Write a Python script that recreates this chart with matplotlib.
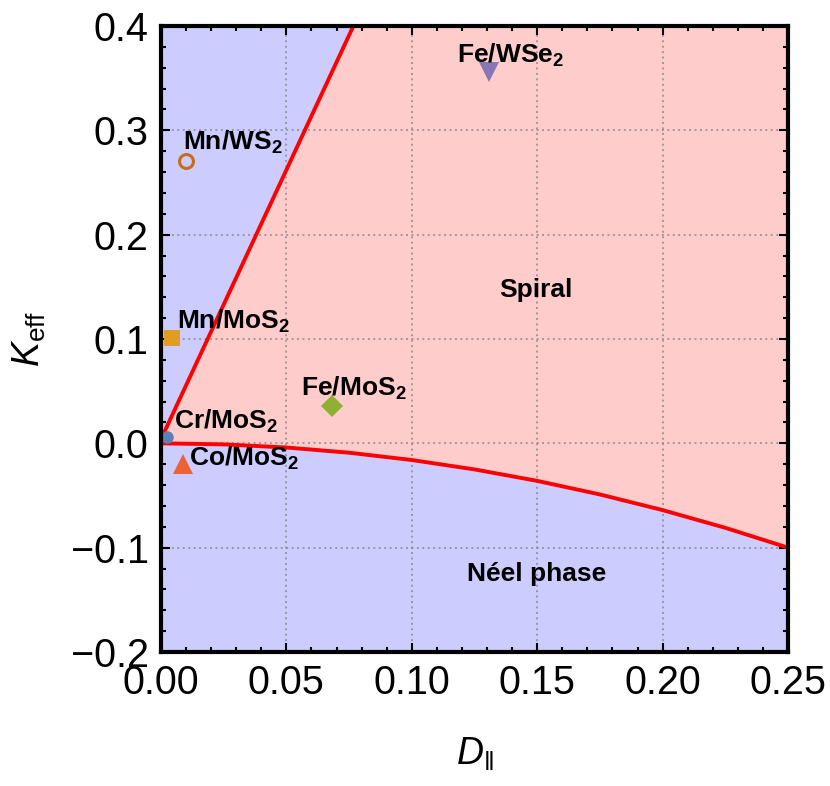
import matplotlib
matplotlib.use("Agg")
import matplotlib.pyplot as plt
from matplotlib.ticker import MultipleLocator, FuncFormatter

# ─── data ────────────────────────────────────────────────────────────────────
materials = ["Mn/WS$_\\mathbf{2}$", "Mn/MoS$_\\mathbf{2}$", "Cr/MoS$_\\mathbf{2}$",
             "Co/MoS$_\\mathbf{2}$", "Fe/MoS$_\\mathbf{2}$", "Fe/WSe$_\\mathbf{2}$"]
d_par = [0.0098, 0.0045, 0.0025, 0.0088, 0.068, 0.1307]
k_eff = [0.271, 0.101, 0.0064, -0.020, 0.0354, 0.356]

# upper phase boundary (straight line)
line_d = [0.0, 0.0767]
line_k = [0.004, 0.4]

# lower phase boundary (curve)
curve_d = [0.0, 0.025, 0.05, 0.075, 0.10, 0.125, 0.15, 0.175, 0.20, 0.225, 0.25]
curve_k = [0.0, -0.001, -0.004, -0.009, -0.016, -0.025, -0.036, -0.049, -0.064, -0.081, -0.100]

# ─── styling ─────────────────────────────────────────────────────────────────
markers = ["o", "s", "o", "^", "D", "v"]
colors = ["#C56E1A", "#E19C24", "#5E81B5", "#EB6235", "#8FB032", "#8778B3"]
sizes = [10, 12, 9, 15, 11.5, 15]
filled = [False, True, True, True, True, True]
label_pos = [(0.0088, 0.2813), (0.0062, 0.1097), (0.0052, 0.014),
             (0.0112, -0.0217), (0.0558, 0.0453), (0.1182, 0.365)]

plt.rcParams["font.family"] = ["Liberation Sans", "DejaVu Sans"]
plt.rcParams["mathtext.fontset"] = "custom"
plt.rcParams["mathtext.rm"] = "Liberation Sans"
plt.rcParams["mathtext.it"] = "Liberation Sans:italic"
plt.rcParams["mathtext.bf"] = "Liberation Sans:bold"

BLUE_BG = "#CCCCFF"
PINK_BG = "#FFCCCC"

fig = plt.figure(figsize=(8.3, 7.86), dpi=100)
ax = fig.add_axes([0.194, 0.1705, 0.7554, 0.7964])
xmin, xmax, ymin, ymax = 0.0, 0.25, -0.2, 0.4
ax.set_xlim(xmin, xmax)
ax.set_ylim(ymin, ymax)
ax.set_facecolor(BLUE_BG)

# spiral region between the two boundaries
poly_x = line_d + [xmax] + curve_d[::-1]
poly_y = line_k + [ymax] + curve_k[::-1]
ax.fill(poly_x, poly_y, color=PINK_BG, lw=0, zorder=1)

ax.plot(line_d, line_k, color="red", lw=2.8, zorder=2, solid_capstyle="butt")
ax.plot(curve_d, curve_k, color="red", lw=2.8, zorder=2)

for d, k, m, c, s, f in zip(d_par, k_eff, markers, colors, sizes, filled):
    if f:
        ax.plot(d, k, marker=m, color=c, ms=s, mew=0, ls="", zorder=3)
    else:
        ax.plot(d, k, marker=m, mfc="none", mec=c, ms=s, mew=2.2, ls="", zorder=3)

for name, (tx, ty) in zip(materials, label_pos):
    ax.text(tx, ty, name, fontsize=19, fontweight="bold", ha="left", va="baseline", zorder=4)

ax.text(0.1495, 0.1404, "Spiral", fontsize=19, fontweight="bold", ha="center", va="baseline", zorder=4)
ax.text(0.1497, -0.1318, "Néel phase", fontsize=19, fontweight="bold", ha="center", va="baseline", zorder=4)

# ─── axes, ticks, grid ──────────────────────────────────────────────────────
ax.xaxis.set_major_locator(MultipleLocator(0.05))
ax.xaxis.set_minor_locator(MultipleLocator(0.01))
ax.yaxis.set_major_locator(MultipleLocator(0.1))
ax.yaxis.set_minor_locator(MultipleLocator(0.02))
ax.xaxis.set_major_formatter(FuncFormatter(lambda v, p: f"{v:.2f}".replace("-", "\u2212")))
ax.yaxis.set_major_formatter(FuncFormatter(lambda v, p: f"{v:.1f}".replace("-", "\u2212")))

ax.tick_params(which="both", direction="in", top=True, right=True, width=1.5, color="black")
ax.tick_params(which="major", length=6.5, labelsize=28.5, pad=9)
ax.tick_params(which="minor", length=3.6)

for sp in ax.spines.values():
    sp.set_linewidth(3)
    sp.set_zorder(5)

ax.set_axisbelow("line")
ax.grid(True, which="major", color="#808080", alpha=0.7, lw=1.4, ls=(0, (1, 1.8)))

ax.set_xlabel(r"$D_{\Vert}$", fontsize=27, labelpad=24)
ax.set_ylabel(r"$K_{\mathrm{eff}}$", fontsize=27, labelpad=16)

fig.savefig("out.png", dpi=100)
